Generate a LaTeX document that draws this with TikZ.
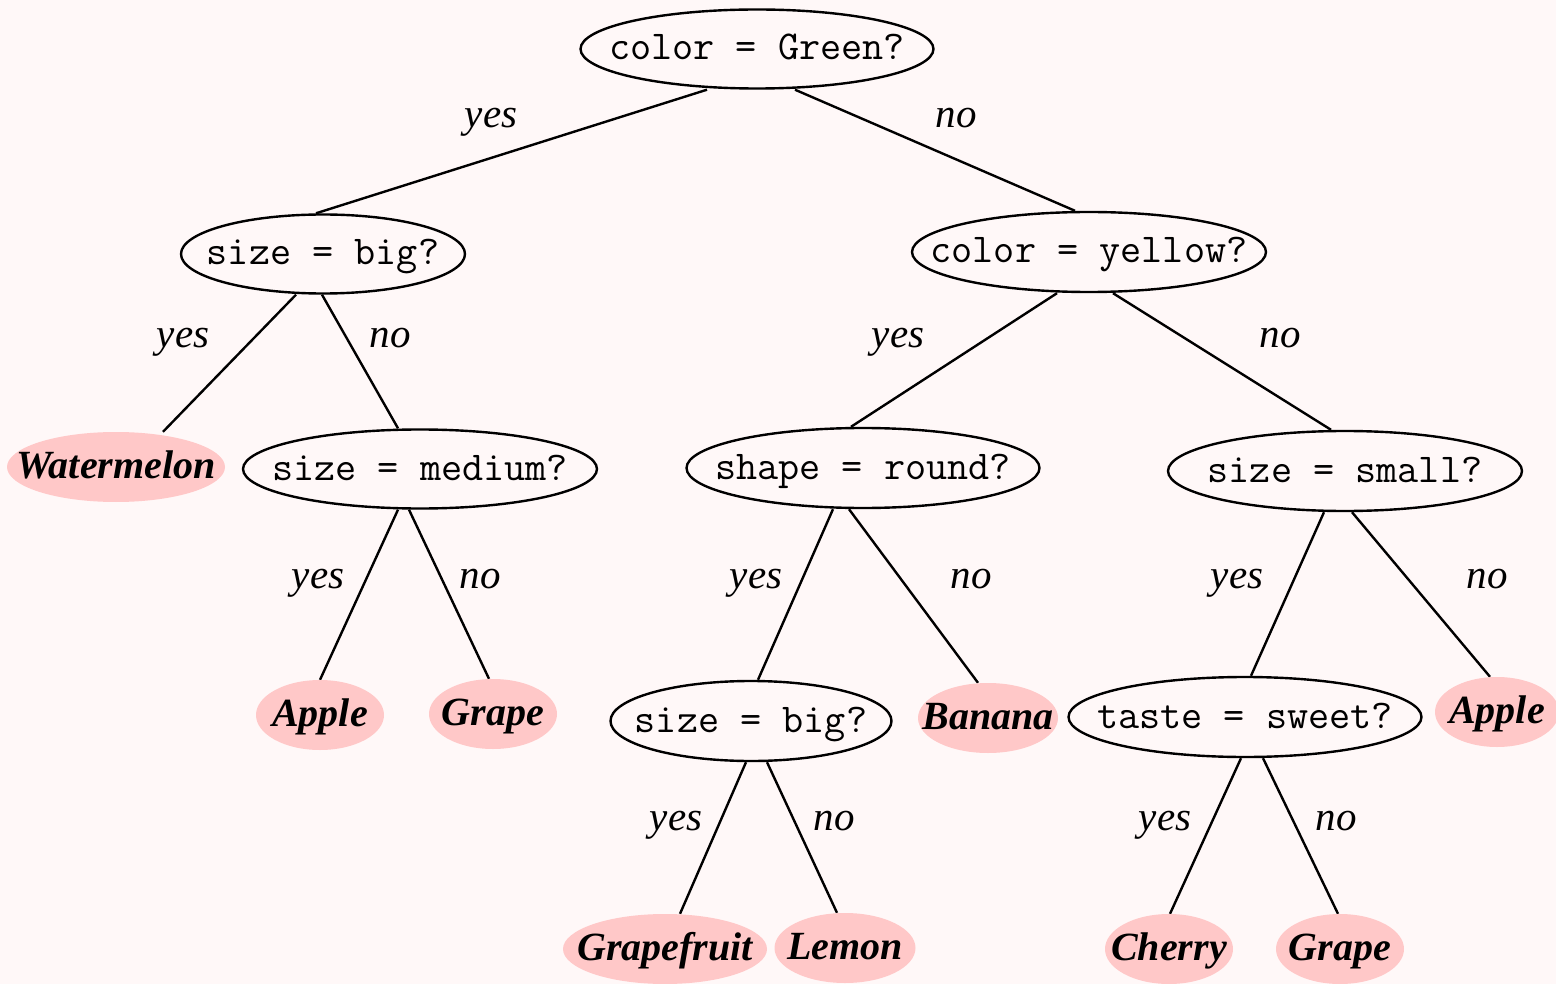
\documentclass[tikz,border=0pt]{standalone}
\usepackage{fontspec}
\usetikzlibrary{shapes.geometric}
\newfontfamily\lfont{Liberation Serif}
\definecolor{bgc}{RGB}{255,248,248}
\definecolor{leafc}{RGB}{255,200,200}
\pgfdeclarelayer{background}
\pgfsetlayers{background,main}
\tikzset{
  question/.style={ellipse, draw=black, line width=2.4pt, fill=bgc,
    inner xsep=-100pt, inner ysep=-30pt,
    font=\ttfamily\fontsize{41}{41}\selectfont, text height=24pt, text depth=2pt},
  leaf/.style={ellipse, fill=leafc, draw=none,
    inner xsep=-100pt, inner ysep=-30pt, minimum height=70pt,
    font=\lfont\bfseries\itshape\fontsize{40}{40}\selectfont, text height=26pt, text depth=4pt},
  answer/.style={inner sep=0pt, font=\lfont\itshape\fontsize{41}{41}\selectfont,
    text height=20pt, text depth=0pt},
  edge/.style={line width=2.4pt, draw=black}
}
\begin{document}
\begin{tikzpicture}[x=1pt,y=-1pt]
\begin{pgfonlayer}{background}
\path[fill=bgc] (0,0) rectangle (1556,984);
\end{pgfonlayer}
\useasboundingbox (0,0) rectangle (1556,984);
% questions
\node[question, minimum width=353pt, minimum height=79pt] (root) at (757,49) {color = Green?};
\node[question, minimum width=284pt, minimum height=79pt] (sb1) at (323,254) {size = big?};
\node[question, minimum width=354pt, minimum height=80pt] (yel) at (1089,252) {color = yellow?};
\node[question, minimum width=354pt, minimum height=79pt] (med) at (420,469) {size = medium?};
\node[question, minimum width=353pt, minimum height=80pt] (shp) at (863,468) {shape = round?};
\node[question, minimum width=354pt, minimum height=80pt] (sml) at (1345,471) {size = small?};
\node[question, minimum width=281pt, minimum height=80pt] (sb2) at (751,721) {size = big?};
\node[question, minimum width=353pt, minimum height=80pt] (tst) at (1245,717) {taste = sweet?};
% leaves
\node[leaf, minimum width=218pt] (wm) at (116,467) {Watermelon};
\node[leaf, minimum width=128pt] (ap1) at (320,715) {Apple};
\node[leaf, minimum width=128pt] (gr1) at (493,714) {Grape};
\node[leaf, minimum width=140pt] (ban) at (988,718) {Banana};
\node[leaf, minimum width=124pt] (ap2) at (1497,712) {Apple};
\node[leaf, minimum width=204pt] (gf) at (665,949) {Grapefruit};
\node[leaf, minimum width=141pt] (lem) at (845,948) {Lemon};
\node[leaf, minimum width=128pt] (che) at (1169,949) {Cherry};
\node[leaf, minimum width=128pt] (gr2) at (1340,949) {Grape};
% edges
\begin{pgfonlayer}{background}
\draw[edge] ([xshift=-50pt]root.south) -- ([xshift=-7pt]sb1.north);
\draw[edge] ([xshift=38pt]root.south) -- ([xshift=-14pt]yel.north);
\draw[edge] ([xshift=-27pt]sb1.south) -- ([xshift=47pt]wm.north);
\draw[edge] ([xshift=-1pt]sb1.south) -- ([xshift=-22pt]med.north);
\draw[edge] ([xshift=-32pt]yel.south) -- ([xshift=-12pt]shp.north);
\draw[edge] ([xshift=24pt]yel.south) -- ([xshift=-14pt]sml.north);
\draw[edge] ([xshift=-22pt]med.south) -- (ap1.north);
\draw[edge] ([xshift=-11pt]med.south) -- ([xshift=-4pt]gr1.north);
\draw[edge] ([xshift=-30pt]shp.south) -- ([xshift=7pt]sb2.north);
\draw[edge] ([xshift=-14pt]shp.south) -- ([xshift=-10pt]ban.north);
\draw[edge] ([xshift=-21pt]sml.south) -- ([xshift=6pt]tst.north);
\draw[edge] ([xshift=7pt]sml.south) -- ([xshift=-7pt]ap2.north);
\draw[edge] ([xshift=-5pt]sb2.south) -- ([xshift=15pt]gf.north);
\draw[edge] ([xshift=16pt]sb2.south) -- ([xshift=-8pt]lem.north);
\draw[edge] ([xshift=-4pt]tst.south) -- ([xshift=1pt]che.north);
\draw[edge] ([xshift=18pt]tst.south) -- ([xshift=-2pt]gr2.north);
\end{pgfonlayer}
% answers
\node[answer] (a1y) at (491,118) {yes};
\node[answer] (a1n) at (956,118) {no};
\node[answer] (a2y) at (183,338) {yes};
\node[answer] (a2n) at (390,338) {no};
\node[answer] (a3y) at (898,338) {yes};
\node[answer] (a3n) at (1280,338) {no};
\node[answer] (a4y) at (318,578) {yes};
\node[answer] (a4n) at (480,578) {no};
\node[answer] (a5y) at (756,578) {yes};
\node[answer] (a5n) at (971,578) {no};
\node[answer] (a6y) at (1237,578) {yes};
\node[answer] (a6n) at (1487,578) {no};
\node[answer] (a7y) at (676,820) {yes};
\node[answer] (a7n) at (834,820) {no};
\node[answer] (a8y) at (1165,820) {yes};
\node[answer] (a8n) at (1336,820) {no};
\end{tikzpicture}
\end{document}
